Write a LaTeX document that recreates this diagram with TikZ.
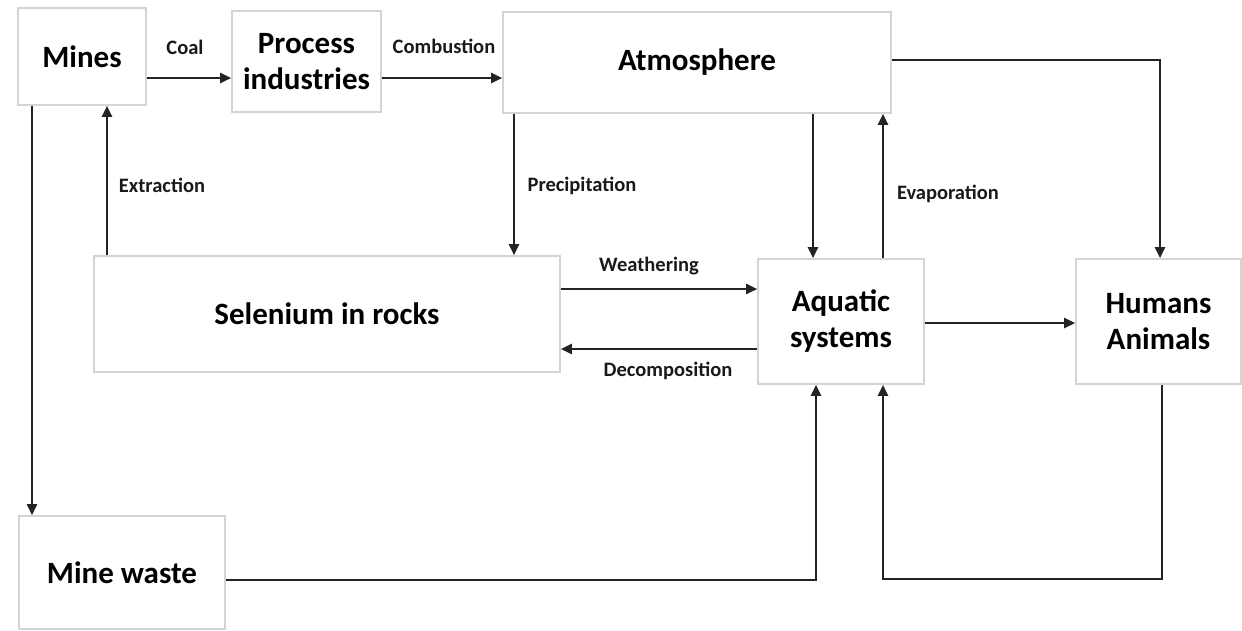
\documentclass[tikz,border=0pt]{standalone}
\usepackage{fontspec}
\setmainfont{Carlito}
\usetikzlibrary{arrows.meta,calc}
\definecolor{boxline}{RGB}{212,212,212}
\definecolor{arrline}{RGB}{35,35,35}
\tikzset{
  box/.style={draw=boxline, line width=1.6pt, fill=white, inner sep=0pt, align=center,
    font=\fontsize{31}{36}\selectfont\bfseries, text=black},
  lbl/.style={font=\fontsize{20.5}{24}\selectfont\bfseries, text=black!90, inner sep=0pt},
  arr/.style={draw=arrline, line width=2.3pt, -{Triangle[length=11pt,width=10pt]}},
  ln/.style={draw=arrline, line width=2.3pt}
}
\begin{document}
\begin{tikzpicture}[x=1pt,y=-1pt]
\useasboundingbox (0,0) rectangle (1242,630);
% boxes
\node[box, minimum width=128pt, minimum height=97pt] (mines) at (82,56.5) {Mines};
\node[box, minimum width=149pt, minimum height=101pt] (proc) at (306.5,61.5) {Process\\industries};
\node[box, minimum width=388pt, minimum height=101pt] (atm) at (697,62.5) {Atmosphere};
\node[box, minimum width=466pt, minimum height=116pt] (sel) at (327,314) {Selenium in rocks};
\node[box, minimum width=166pt, minimum height=125pt] (aqu) at (841,321.5) {Aquatic\\systems};
\node[box, minimum width=165pt, minimum height=125pt] (hum) at (1158.5,321.5) {Humans\\Animals};
\node[box, minimum width=206pt, minimum height=113pt] (waste) at (122,572.5) {Mine waste};
% helper coordinates
\coordinate (c1) at (1160,60);
\coordinate (c2) at (816,580);
\coordinate (c3) at (1162,579);
\coordinate (c4) at (883,579);
% connectors
\draw[arr] (mines.east |- 0,78) -- (proc.west |- 0,78);
\draw[arr] (proc.east |- 0,78) -- (atm.west |- 0,78);
\draw[arr, line width=1.8pt] (mines.south -| 32,0) -- (waste.north -| 32,0);
\draw[arr] (sel.north -| 107,0) -- (mines.south -| 107,0);
\draw[arr] (atm.south -| 514,0) -- (sel.north -| 514,0);
\draw[arr] (atm.south -| 813,0) -- (aqu.north -| 813,0);
\draw[arr] (aqu.north -| 883,0) -- (atm.south -| 883,0);
\draw[arr] (atm.east |- c1) -- (c1) -- (hum.north -| c1);
\draw[arr] (sel.east |- 0,289) -- (aqu.west |- 0,289);
\draw[arr] (aqu.west |- 0,349) -- (sel.east |- 0,349);
\draw[arr] (aqu.east |- 0,323) -- (hum.west |- 0,323);
\draw[arr] (waste.east |- c2) -- (c2) -- (aqu.south -| c2);
\draw[arr] (hum.south -| c3) -- (c3) -- (c4) -- (aqu.south -| c4);
% labels
\node[lbl] (lcoal) at (185,47) {Coal};
\node[lbl] (lcomb) at (444,46) {Combustion};
\node[lbl] (lext) at (162,185) {Extraction};
\node[lbl] (lprec) at (582,186) {Precipitation};
\node[lbl] (levap) at (948,194) {Evaporation};
\node[lbl] (lweat) at (649,266) {Weathering};
\node[lbl] (ldeco) at (668,371) {Decomposition};
\end{tikzpicture}
\end{document}
